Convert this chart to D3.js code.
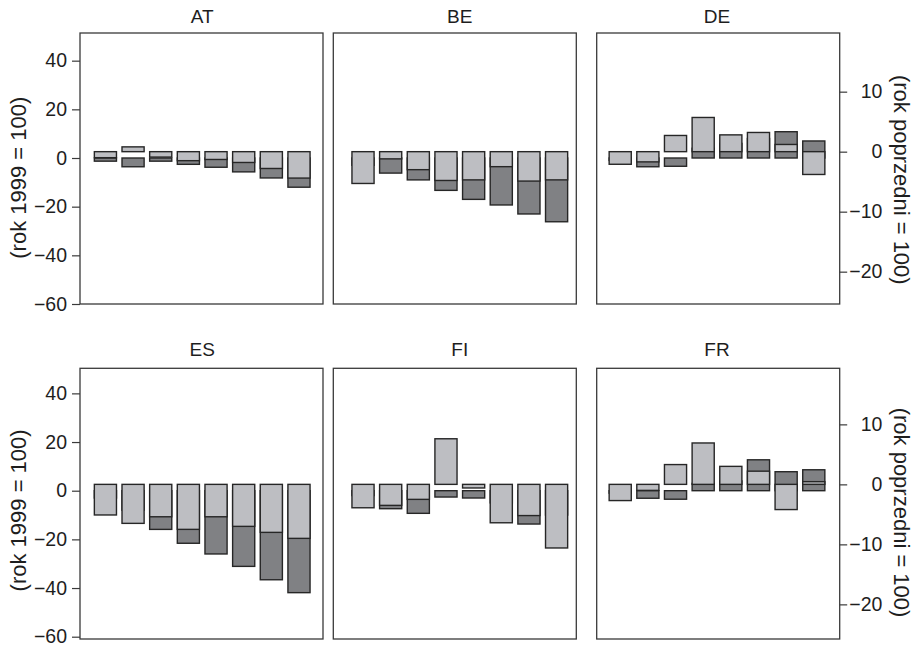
<!DOCTYPE html>
<html>
<head>
<meta charset="utf-8">
<script src="https://cdn.jsdelivr.net/npm/d3@7"></script>
<style>
  html, body { margin: 0; padding: 0; background: #fff; }
  svg { display: block; }
  text { font-family: "Liberation Sans", Arial, Helvetica, sans-serif; fill: #1e1e1e; }
</style>
</head>
<body>
<script>
// ---- data ----
const years = ["2000", "2001", "2002", "2003", "2004", "2005", "2006", "2007"];
const countries = ["AT", "BE", "DE", "ES", "FI", "FR"];

// annual change (previous year = 100), right axis, light bars
const annualAT = [-1.0, 0.8, -0.9, -1.5, -1.3, -1.8, -2.8, -4.4];
const annualBE = [-5.3, -1.2, -3.0, -4.8, -4.7, -2.5, -4.9, -4.7];
const annualDE = [-2.1, -1.7, 2.7, 5.7, 2.8, 3.2, 1.2, -3.8];
const annualES = [-5.1, -6.5, -5.4, -7.5, -5.4, -7.0, -8.0, -9.0];
const annualFI = [-3.9, -3.5, -2.5, 7.6, -0.6, -6.4, -5.2, -10.6];
const annualFR = [-2.7, -1.0, 3.3, 6.9, 3.0, 2.2, -4.2, 0.45];

// change vs 1999 (1999 = 100), left axis, dark bars
const indexAT = [-1.3, -3.6, -1.3, -2.6, -3.8, -5.7, -8.2, -12.0];
const indexBE = [-3.0, -6.2, -9.0, -13.3, -17.0, -19.3, -23.0, -26.2];
const indexDE = [-1.0, -3.6, -3.4, 4.0, 6.0, 8.0, 10.8, 7.0];
const indexES = [-3.0, -8.0, -15.9, -21.6, -26.0, -31.1, -36.6, -41.9];
const indexFI = [-2.0, -7.4, -9.3, -2.6, -3.0, -5.0, -13.7, -10.0];
const indexFR = [-1.0, -3.1, -3.5, 3.0, 4.0, 12.7, 7.8, 8.6];

const leftTicks = [40, 20, 0, -20, -40, -60];
const rightTicks = [10, 0, -10, -20];
const leftTitle = "(rok 1999 = 100)";
const rightTitle = "(rok poprzedni = 100)";

const annualSeries = [annualAT, annualBE, annualDE, annualES, annualFI, annualFR];
const indexSeries = [indexAT, indexBE, indexDE, indexES, indexFI, indexFR];

// ---- layout ----
const W = 917, H = 645;
const frameX = [80, 333.3, 596.7];
const frameW = 243;
const barCenter = [202.2, 459.8, 717];
const barSpan = 215.7;
const rowShift = [0, 332.7];
const frameTop = [33, 368.3];
const frameBottom = [304, 639];

const lightFill = "#bdbec2";
const darkFill = "#808184";
const barStroke = "#262626";

const svg = d3.select("body").append("svg").attr("width", W).attr("height", H);
svg.append("rect").attr("width", W).attr("height", H).attr("fill", "#fff");

countries.forEach((c, i) => {
  const col = i % 3, row = Math.floor(i / 3);
  const sh = rowShift[row];
  const yL = d3.scaleLinear().domain([-60, 40]).range([304 + sh, 60.67 + sh]);
  const yR = d3.scaleLinear().domain([-20, 10]).range([271.67 + sh, 91.67 + sh]);
  const x = d3.scaleBand().domain(years)
    .range([barCenter[col] - barSpan / 2, barCenter[col] + barSpan / 2])
    .paddingInner(0.2).paddingOuter(0);

  const g = svg.append("g");

  // frame
  g.append("rect")
    .attr("x", frameX[col]).attr("y", frameTop[row])
    .attr("width", frameW).attr("height", frameBottom[row] - frameTop[row])
    .attr("fill", "none").attr("stroke", "#3a3a3a").attr("stroke-width", 1.3);

  // dark bars (left axis)
  g.selectAll("rect.dark").data(indexSeries[i]).join("rect")
    .attr("class", "dark")
    .attr("x", (d, j) => x(years[j]))
    .attr("width", x.bandwidth())
    .attr("y", d => Math.min(yL(0), yL(d)))
    .attr("height", d => Math.abs(yL(d) - yL(0)))
    .attr("fill", darkFill).attr("stroke", barStroke).attr("stroke-width", 1.4);

  // light bars (right axis), drawn on top
  g.selectAll("rect.light").data(annualSeries[i]).join("rect")
    .attr("class", "light")
    .attr("x", (d, j) => x(years[j]))
    .attr("width", x.bandwidth())
    .attr("y", d => Math.min(yR(0), yR(d)))
    .attr("height", d => Math.abs(yR(d) - yR(0)))
    .attr("fill", lightFill).attr("stroke", barStroke).attr("stroke-width", 1.4);

  // title
  g.append("text")
    .attr("x", barCenter[col]).attr("y", 23.3 + sh)
    .attr("text-anchor", "middle").attr("font-size", 19)
    .text(c);

  if (col === 0) {
    const ax = g.append("g").attr("transform", `translate(${frameX[col]},0)`)
      .call(d3.axisLeft(yL).tickValues(leftTicks).tickSize(8).tickPadding(5));
    ax.select(".domain").remove();
    ax.selectAll(".tick line").attr("stroke", "#3a3a3a").attr("stroke-width", 1.2);
    ax.selectAll(".tick text").attr("font-size", 19.5).attr("fill", "#1e1e1e")
      .style("font-family", "'Liberation Sans', Arial, sans-serif");
    g.append("text")
      .attr("transform", `translate(18.3,${177.7 + sh}) rotate(-90)`)
      .attr("text-anchor", "middle").attr("dominant-baseline", "central")
      .attr("font-size", 22).text(leftTitle);
  }
  if (col === 2) {
    const ax = g.append("g").attr("transform", `translate(${frameX[col] + frameW},0)`)
      .call(d3.axisRight(yR).tickValues(rightTicks).tickSize(7.5));
    ax.select(".domain").remove();
    ax.selectAll(".tick line").attr("stroke", "#3a3a3a").attr("stroke-width", 1.2);
    ax.selectAll(".tick text").attr("font-size", 19.5).attr("fill", "#1e1e1e")
      .attr("x", 42.7).attr("text-anchor", "end")
      .style("font-family", "'Liberation Sans', Arial, sans-serif");
    g.append("text")
      .attr("transform", `translate(901.7,${179.8 + sh}) rotate(90)`)
      .attr("text-anchor", "middle").attr("dominant-baseline", "central")
      .attr("font-size", 22).text(rightTitle);
  }
});
</script>
</body>
</html>
